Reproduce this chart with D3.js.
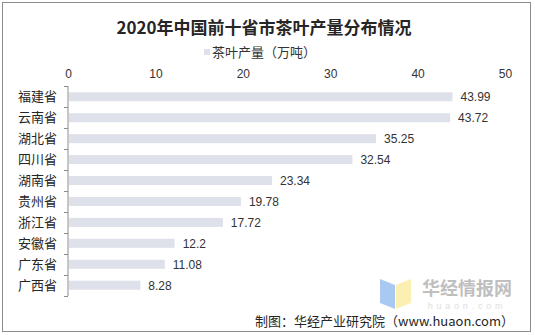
<!DOCTYPE html>
<html><head><meta charset="utf-8">
<script src="https://cdn.jsdelivr.net/npm/d3@7/dist/d3.min.js"></script>
<style>body{margin:0;background:#fff}svg{display:block}</style>
</head><body><svg id="c" width="535" height="335"></svg>
<script>
const categories = ["福建省","云南省","湖北省","四川省","湖南省","贵州省","浙江省","安徽省","广东省","广西省"];
const values = [43.99,43.72,35.25,32.54,23.34,19.78,17.72,12.2,11.08,8.28];
const valueLabels = ["43.99","43.72","35.25","32.54","23.34","19.78","17.72","12.2","11.08","8.28"];
const xTicks = [0,10,20,30,40,50];
const title = "2020年中国前十省市茶叶产量分布情况";
const legendLabel = "茶叶产量（万吨）";
const source = "制图：华经产业研究院（www.huaon.com）";

const svg = d3.select("#c");
const font = "'Noto Sans CJK SC','Microsoft YaHei',sans-serif";
svg.append("rect").attr("x",2.5).attr("y",2.5).attr("width",528).attr("height",329)
  .attr("fill","#fff").attr("stroke","#8c8c8c").attr("stroke-width",1);

// watermark
const wm = svg.append("g");
wm.append("path").attr("d","M380,279 L395,285 L395,309 L380,303 Z").attr("fill","#a9c9f2");
wm.append("path").attr("d","M396,285 L411,279 L411,303 L396,309 Z").attr("fill","#fbefb1");
wm.append("text").attr("x",467).attr("y",295).attr("text-anchor","middle")
  .attr("font-family",font).attr("font-weight","bold").attr("font-size",18).attr("fill","#bfbfbf").text("华经情报网");
wm.append("text").attr("x",467).attr("y",309).attr("text-anchor","middle")
  .attr("font-family","Arial,'Liberation Sans',sans-serif").attr("font-size",9).attr("letter-spacing",3.8).attr("fill","#dedede").text("huaon.com");

svg.append("text").attr("x",264).attr("y",34).attr("text-anchor","middle")
  .attr("font-family",font).attr("font-weight","bold").attr("font-size",17).attr("fill","#262626").text(title);

svg.append("rect").attr("x",204).attr("y",49).attr("width",6).attr("height",6).attr("fill","#dfe1ea");
svg.append("text").attr("x",212).attr("y",57).attr("font-family",font).attr("font-size",13).attr("fill","#333").text(legendLabel);

const x = d3.scaleLinear().domain([0,50]).range([68,505]);
const y = d3.scaleBand().domain(categories).range([86,296]).paddingInner(0.57).paddingOuter(0.3);

const xa = svg.append("g").attr("transform","translate(0,78)")
  .call(d3.axisTop(x).tickValues(xTicks).tickSize(0).tickPadding(0));
xa.select(".domain").remove();
xa.selectAll("text").attr("font-family","Arial,'Liberation Sans',sans-serif").attr("font-size",12).attr("fill","#333");

const yb = d3.scaleBand().domain(categories).range([86,296]);
const ya = svg.append("g").attr("transform","translate(68,0)")
  .call(d3.axisLeft(yb).tickSize(0).tickPadding(11));
ya.select(".domain").attr("stroke","#8c8c8c").attr("d","M0,86V296");
ya.selectAll("text").attr("font-family",font).attr("font-size",13).attr("fill","#262626");
const tickPos = d3.range(categories.length+1).map(i=>86+i*yb.step());
svg.append("g").selectAll("line").data(tickPos).join("line")
  .attr("x1",64).attr("x2",68).attr("y1",d=>d+0.5).attr("y2",d=>d+0.5).attr("stroke","#8c8c8c");

svg.append("g").selectAll("rect").data(values).join("rect")
  .attr("x",x(0)+1).attr("y",(d,i)=>y(categories[i])).attr("height",y.bandwidth())
  .attr("width",d=>x(d)-x(0)-1).attr("fill","#dfe1ea");

svg.append("g").selectAll("text").data(values).join("text")
  .attr("x",d=>x(d)+8).attr("y",(d,i)=>y(categories[i])+y.bandwidth()/2+4.5)
  .attr("font-family","Arial,'Liberation Sans',sans-serif").attr("font-size",12).attr("fill","#333")
  .text((d,i)=>valueLabels[i]);

svg.append("text").attr("x",514).attr("y",326).attr("text-anchor","end")
  .attr("font-family",font).attr("font-size",13).attr("fill","#262626").text(source);
</script></body></html>
